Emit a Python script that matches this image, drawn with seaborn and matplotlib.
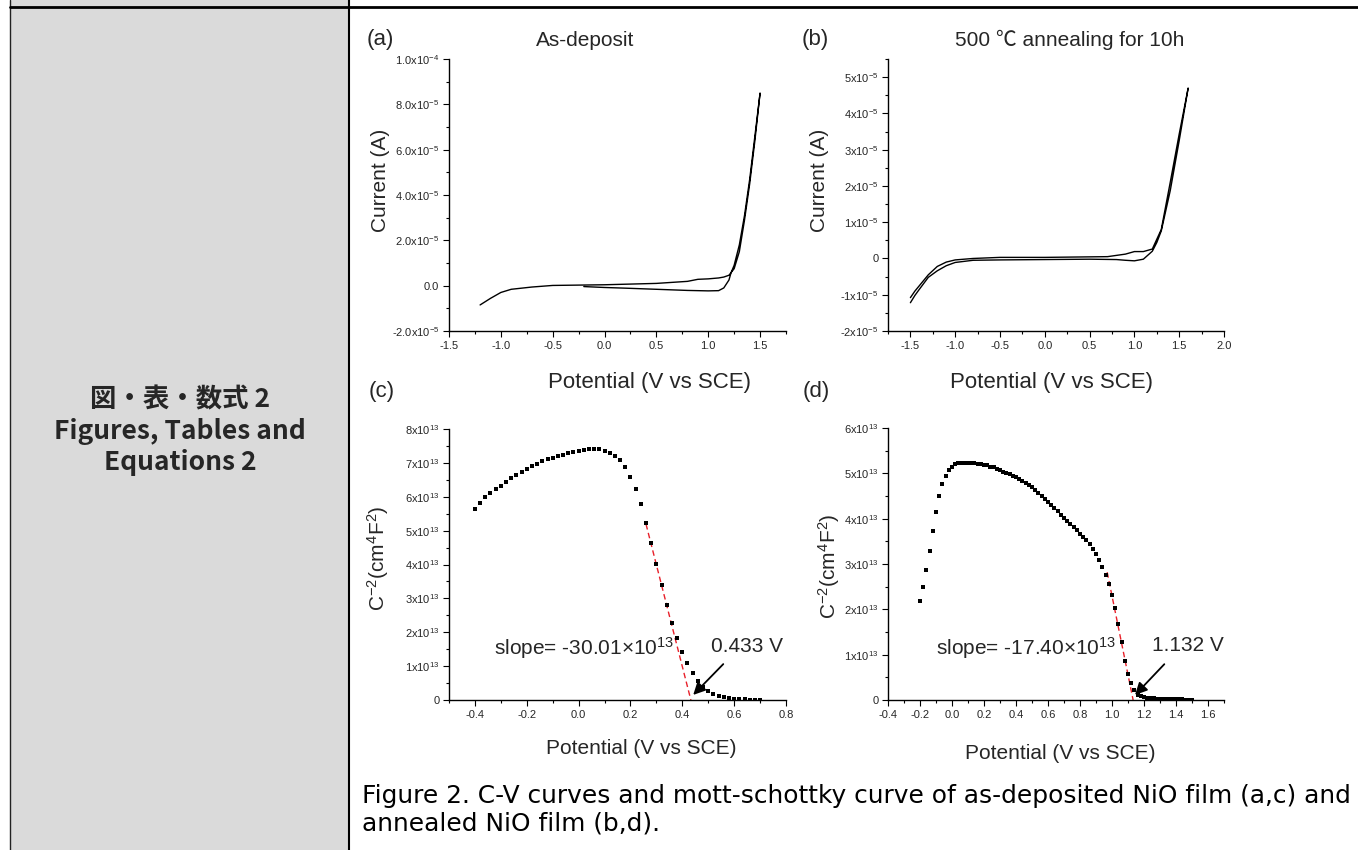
import numpy as np
import matplotlib
matplotlib.use("Agg")
import matplotlib.pyplot as plt
import seaborn as sns
from matplotlib.ticker import AutoMinorLocator
from matplotlib.lines import Line2D
from matplotlib.patches import Rectangle

# (a) as-deposit, C-V loop (potential V, current in 1e-6 A)
a_pot = [-0.2, 0.0, 0.2, 0.5, 0.8, 1.0, 1.1, 1.15, 1.2, 1.22, 1.25, 1.3, 1.35, 1.4, 1.45, 1.5,
         1.45, 1.4, 1.35, 1.3, 1.25, 1.2, 1.15, 1.1, 1.0, 0.9, 0.8, 0.5, 0.0, -0.5, -0.7, -0.9,
         -1.0, -1.1, -1.2]
a_cur = [-0.4, -0.8, -1.1, -1.6, -2.1, -2.3, -2.2, -1.0, 2.5, 5.7, 9.0, 18.0, 31.0, 47.0, 66.0, 85.0,
         64.0, 45.0, 29.0, 15.0, 7.5, 4.6, 3.8, 3.4, 3.0, 2.8, 1.9, 1.0, 0.4, 0.1, -0.6, -1.6,
         -3.0, -5.6, -8.5]

# (b) 500 C annealed, C-V loop (potential V, current in 1e-5 A)
b_pot = [-1.5, -1.45, -1.4, -1.3, -1.2, -1.1, -1.0, -0.8, -0.5, 0.0, 0.5, 0.8, 0.9, 1.0, 1.1, 1.2,
         1.25, 1.3, 1.4, 1.5, 1.6,
         1.5, 1.4, 1.3, 1.2, 1.1, 1.0, 0.9, 0.7, 0.0, -0.5, -0.8, -1.0, -1.1, -1.2, -1.3, -1.4,
         -1.45, -1.5]
b_cur = [-1.22, -1.02, -0.85, -0.52, -0.34, -0.2, -0.11, -0.05, -0.04, -0.03, -0.02, -0.03, -0.05,
         -0.065, -0.02, 0.2, 0.44, 0.76, 1.87, 3.25, 4.7,
         3.43, 2.1, 0.8, 0.26, 0.19, 0.19, 0.12, 0.05, 0.03, 0.03, 0.0, -0.04, -0.1, -0.22, -0.45,
         -0.75, -0.9, -1.08]

# (c) mott-schottky, as-deposit (C^-2 in 1e13)
c_pot = [-0.40, -0.38, -0.36, -0.34, -0.32, -0.30, -0.28, -0.26, -0.24, -0.22,
         -0.20, -0.18, -0.16, -0.14, -0.12, -0.10, -0.08, -0.06, -0.04, -0.02,
         0.00, 0.02, 0.04, 0.06, 0.08, 0.10, 0.12, 0.14, 0.16, 0.18,
         0.20, 0.22, 0.24, 0.26, 0.28, 0.30, 0.32, 0.34, 0.36, 0.38,
         0.40, 0.42, 0.44, 0.46, 0.48, 0.50, 0.52, 0.54, 0.56, 0.58,
         0.60, 0.62, 0.64, 0.66, 0.68, 0.70]
c_csq = [5.64, 5.83, 5.99, 6.12, 6.23, 6.33, 6.44, 6.55, 6.63, 6.74,
         6.82, 6.90, 6.97, 7.05, 7.11, 7.15, 7.19, 7.24, 7.28, 7.32,
         7.36, 7.39, 7.41, 7.41, 7.40, 7.34, 7.30, 7.21, 7.09, 6.88,
         6.59, 6.22, 5.78, 5.23, 4.62, 4.01, 3.39, 2.80, 2.28, 1.83,
         1.43, 1.08, 0.80, 0.56, 0.39, 0.28, 0.18, 0.13, 0.08, 0.05,
         0.03, 0.02, 0.02, 0.01, 0.01, 0.01]
c_slope = -30.01
c_v0 = 0.433
c_fit_x = [0.26, 0.433]

# (d) mott-schottky, annealed (C^-2 in 1e13)
d_pot = [-0.20, -0.18, -0.16, -0.14, -0.12, -0.10, -0.08, -0.06, -0.04, -0.02,
         0.00, 0.02, 0.04, 0.06, 0.08, 0.10, 0.12, 0.14, 0.16, 0.18,
         0.20, 0.22, 0.24, 0.26, 0.28, 0.30, 0.32, 0.34, 0.36, 0.38,
         0.40, 0.42, 0.44, 0.46, 0.48, 0.50, 0.52, 0.54, 0.56, 0.58,
         0.60, 0.62, 0.64, 0.66, 0.68, 0.70, 0.72, 0.74, 0.76, 0.78,
         0.80, 0.82, 0.84, 0.86, 0.88, 0.90, 0.92, 0.94, 0.96, 0.98,
         1.00, 1.02, 1.04, 1.06, 1.08, 1.10, 1.12, 1.14, 1.16, 1.18,
         1.20, 1.22, 1.24, 1.26, 1.28, 1.30, 1.32, 1.34, 1.36, 1.38,
         1.40, 1.42, 1.44, 1.46, 1.48, 1.50]
d_csq = [2.19, 2.50, 2.87, 3.28, 3.73, 4.14, 4.49, 4.76, 4.95, 5.07,
         5.15, 5.20, 5.22, 5.23, 5.23, 5.23, 5.23, 5.22, 5.21, 5.21,
         5.19, 5.18, 5.15, 5.13, 5.10, 5.07, 5.04, 5.01, 4.98, 4.95,
         4.92, 4.88, 4.84, 4.79, 4.74, 4.69, 4.63, 4.56, 4.50, 4.43,
         4.37, 4.30, 4.23, 4.16, 4.08, 4.01, 3.95, 3.88, 3.81, 3.74,
         3.66, 3.59, 3.53, 3.44, 3.34, 3.22, 3.09, 2.94, 2.75, 2.56,
         2.31, 2.02, 1.67, 1.27, 0.87, 0.57, 0.37, 0.22, 0.12, 0.08,
         0.06, 0.05, 0.04, 0.04, 0.03, 0.03, 0.03, 0.02, 0.02, 0.02,
         0.02, 0.02, 0.02, 0.01, 0.01, 0.01]
d_slope = -17.40
d_v0 = 1.132
d_fit_x = [0.97, 1.132]

# tick labels
a_yticks = [-2e-5, 0, 2e-5, 4e-5, 6e-5, 8e-5, 1e-4]
a_ylabels = [r'-2.0x10$^{-5}$', '0.0', r'2.0x10$^{-5}$', r'4.0x10$^{-5}$',
             r'6.0x10$^{-5}$', r'8.0x10$^{-5}$', r'1.0x10$^{-4}$']
a_xticks = [-1.5, -1.0, -0.5, 0.0, 0.5, 1.0, 1.5]
b_yticks = [-2e-5, -1e-5, 0, 1e-5, 2e-5, 3e-5, 4e-5, 5e-5]
b_ylabels = [r'-2x10$^{-5}$', r'-1x10$^{-5}$', '0', r'1x10$^{-5}$', r'2x10$^{-5}$',
             r'3x10$^{-5}$', r'4x10$^{-5}$', r'5x10$^{-5}$']
b_xticks = [-1.5, -1.0, -0.5, 0.0, 0.5, 1.0, 1.5, 2.0]
c_yticks = [0, 1e13, 2e13, 3e13, 4e13, 5e13, 6e13, 7e13, 8e13]
c_ylabels = ['0'] + [r'%dx10$^{13}$' % k for k in range(1, 9)]
c_xticks = [-0.4, -0.2, 0.0, 0.2, 0.4, 0.6, 0.8]
d_yticks = [0, 1e13, 2e13, 3e13, 4e13, 5e13, 6e13]
d_ylabels = ['0'] + [r'%dx10$^{13}$' % k for k in range(1, 7)]
d_xticks = [-0.4, -0.2, 0.0, 0.2, 0.4, 0.6, 0.8, 1.0, 1.2, 1.4, 1.6]

W, H = 1358, 850

sns.set_style("ticks")
plt.rcParams['font.family'] = ['Liberation Sans', 'Noto Sans CJK JP']
plt.rcParams['mathtext.fontset'] = 'custom'
plt.rcParams['mathtext.rm'] = 'Liberation Sans'
plt.rcParams['mathtext.it'] = 'Liberation Sans:italic'
plt.rcParams['mathtext.bf'] = 'Liberation Sans:bold'
plt.rcParams['axes.linewidth'] = 1.0
plt.rcParams['axes.edgecolor'] = 'black'

fig = plt.figure(figsize=(W / 100, H / 100), dpi=100)


def box(l, t, r, b):
    return [l / W, 1 - b / H, (r - l) / W, (b - t) / H]


def fp(x, y):
    return x / W, 1 - y / H


# table cell on the left
fig.add_artist(Rectangle((11 / W, 0), 338 / W, 1, transform=fig.transFigure,
                         facecolor='#dadada', edgecolor='none', zorder=0))
fig.add_artist(Line2D([10 / W, 10 / W], [0, 1], transform=fig.transFigure, color='#222222', lw=1.0))
fig.add_artist(Line2D([349.5 / W, 349.5 / W], [0, 1], transform=fig.transFigure, color='black', lw=1.5))
fig.add_artist(Line2D([10 / W, 1], [1 - 7 / H, 1 - 7 / H], transform=fig.transFigure, color='black', lw=2.0))

cell_font = ['Noto Sans CJK JP', 'DejaVu Sans']
fig.text(*fp(180, 400), '図・表・数式 2', ha='center', va='center', fontsize=19,
         fontweight='bold', family=cell_font)
fig.text(*fp(180, 432), 'Figures, Tables and', ha='center', va='center', fontsize=19,
         fontweight='bold', family=cell_font)
fig.text(*fp(180, 462), 'Equations 2', ha='center', va='center', fontsize=19,
         fontweight='bold', family=cell_font)

axA = fig.add_axes(box(449, 59, 786, 331))
axB = fig.add_axes(box(888, 59, 1224, 331))
axC = fig.add_axes(box(449, 429, 786, 700))
axD = fig.add_axes(box(888, 428, 1224, 700))

sns.lineplot(x=a_pot, y=np.array(a_cur) * 1e-6, sort=False, estimator=None,
             color='black', lw=1.0, ax=axA)
sns.lineplot(x=b_pot, y=np.array(b_cur) * 1e-5, sort=False, estimator=None,
             color='black', lw=1.0, ax=axB)
sns.scatterplot(x=c_pot, y=np.array(c_csq) * 1e13, marker='s', s=6, color='black',
                linewidth=0, ax=axC, zorder=3)
sns.scatterplot(x=d_pot, y=np.array(d_csq) * 1e13, marker='s', s=6, color='black',
                linewidth=0, ax=axD, zorder=3)

# linear fits
cx = np.array(c_fit_x)
axC.plot(cx, c_slope * 1e13 * (cx - c_v0), color='#e8202a', lw=1.0, ls=(0, (4, 2.5)), zorder=2)
dx = np.array(d_fit_x)
axD.plot(dx, d_slope * 1e13 * (dx - d_v0), color='#e8202a', lw=1.0, ls=(0, (4, 2.5)), zorder=2)


def style(ax, xlim, ylim, xticks, yticks, ylabels):
    ax.set_xlim(*xlim)
    ax.set_ylim(*ylim)
    ax.set_xticks(xticks)
    ax.set_xticklabels(['%.1f' % v for v in xticks])
    ax.set_yticks(yticks)
    ax.set_yticklabels(ylabels)
    ax.xaxis.set_minor_locator(AutoMinorLocator(2))
    ax.yaxis.set_minor_locator(AutoMinorLocator(2))
    ax.tick_params(which='major', length=4, width=0.8, labelsize=8, color='black', pad=3)
    ax.tick_params(which='minor', length=2.5, width=0.8, color='black')
    sns.despine(ax=ax)


style(axA, (-1.5, 1.75), (-2e-5, 1e-4), a_xticks, a_yticks, a_ylabels)
style(axB, (-1.75, 2.0), (-2e-5, 5.5e-5), b_xticks, b_yticks, b_ylabels)
style(axC, (-0.5, 0.8), (0, 8e13), c_xticks, c_yticks, c_ylabels)
style(axD, (-0.4, 1.7), (0, 6e13), d_xticks, d_yticks, d_ylabels)

# axis labels
axA.set_xlabel('Potential (V vs SCE)', fontsize=16)
axA.xaxis.set_label_coords(0.596, -0.15)
axB.set_xlabel('Potential (V vs SCE)', fontsize=16)
axB.xaxis.set_label_coords(0.488, -0.15)
axC.set_xlabel('Potential (V vs SCE)', fontsize=15)
axC.xaxis.set_label_coords(0.569, -0.145)
axD.set_xlabel('Potential (V vs SCE)', fontsize=15)
axD.xaxis.set_label_coords(0.512, -0.162)

axA.set_ylabel('Current (A)', fontsize=15)
axA.yaxis.set_label_coords(-0.175, 0.555)
axB.set_ylabel('Current (A)', fontsize=15)
axB.yaxis.set_label_coords(-0.175, 0.555)
axC.set_ylabel(r'C$^{-2}$(cm$^{4}$F$^{2}$)', fontsize=15)
axC.yaxis.set_label_coords(-0.172, 0.524)
axD.set_ylabel(r'C$^{-2}$(cm$^{4}$F$^{2}$)', fontsize=15)
axD.yaxis.set_label_coords(-0.137, 0.49)

# panel letters and titles
fig.text(*fp(380, 40), '(a)', ha='center', va='center', fontsize=16)
fig.text(*fp(585, 40), 'As-deposit', ha='center', va='center', fontsize=15)
fig.text(*fp(815, 40), '(b)', ha='center', va='center', fontsize=16)
fig.text(*fp(1070, 40), '500 ℃ annealing for 10h', ha='center', va='center', fontsize=15)
fig.text(*fp(382, 392), '(c)', ha='center', va='center', fontsize=16)
fig.text(*fp(816, 392), '(d)', ha='center', va='center', fontsize=16)

# slope notes and intercept arrows
axC.text(-0.327, 1.33e13, r'slope= -30.01×10$^{13}$', fontsize=15, va='baseline')
axC.text(0.511, 1.43e13, '%.3f V' % c_v0, fontsize=15, va='baseline')
axC.annotate('', xy=(0.442, 0.15e13), xytext=(0.558, 1.06e13),
             arrowprops=dict(arrowstyle='-|>', color='black', lw=1.3, mutation_scale=18,
                             shrinkA=0, shrinkB=0))
axD.text(-0.097, 0.99e13, r'slope= -17.40×10$^{13}$', fontsize=15, va='baseline')
axD.text(1.25, 1.07e13, '%.3f V' % d_v0, fontsize=15, va='baseline')
axD.annotate('', xy=(1.144, 0.11e13), xytext=(1.327, 0.79e13),
             arrowprops=dict(arrowstyle='-|>', color='black', lw=1.3, mutation_scale=18,
                             shrinkA=0, shrinkB=0))

# caption
cap_font = ['DejaVu Sans']
fig.text(*fp(362, 796), 'Figure 2. C-V curves and mott-schottky curve of as-deposited NiO film (a,c) and',
         ha='left', va='center', fontsize=17.9, family=cap_font, color='black')
fig.text(*fp(362, 824), 'annealed NiO film (b,d).',
         ha='left', va='center', fontsize=17.9, family=cap_font, color='black')

fig.savefig('out.png', dpi=100)
